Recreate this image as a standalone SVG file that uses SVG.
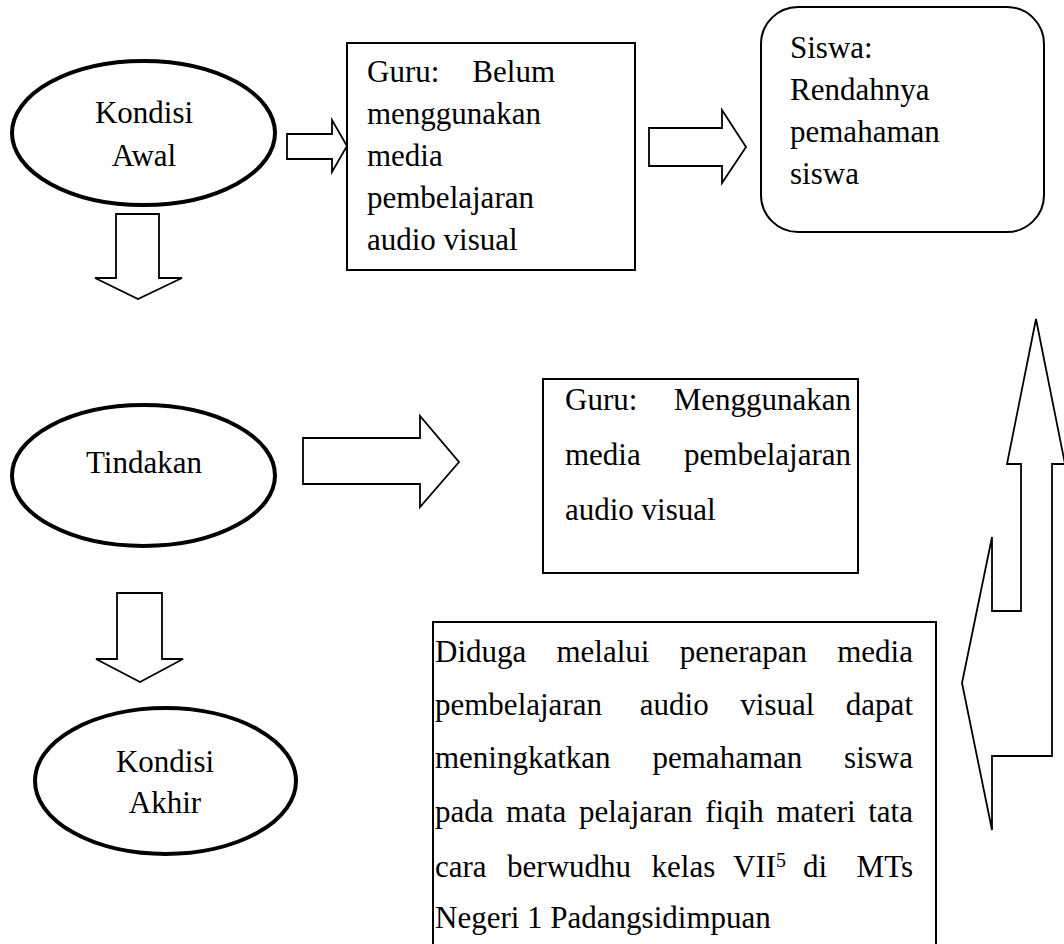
<svg xmlns="http://www.w3.org/2000/svg" width="1064" height="944" viewBox="0 0 1064 944">
<style>
.t{font-family:"Liberation Serif","Times New Roman",serif;font-size:31px;fill:#000}
.c{text-anchor:middle}
.e{text-anchor:end}
.ell{fill:#fff;stroke:#000;stroke-width:4}
.box{fill:#fff;stroke:#000;stroke-width:2}
.arr{fill:#fff;stroke:#000;stroke-width:1.8;stroke-linejoin:miter}
</style>
<rect width="1064" height="944" fill="#fff"/>
<g id="connectors">
<polygon class="arr" points="287,134 332,134 332,120 347,146 332,172 332,159 287,159"/>
<polygon class="arr" points="116,214 159,214 159,278 182,278 138,299 95,278 116,278"/>
<polygon class="arr" points="649,128 722,128 722,110 746,147 722,183 722,166 649,166"/>
<polygon class="arr" points="303,438 420,438 420,416 459,462 420,507 420,484 303,484"/>
<polygon class="arr" points="117,593 162,593 162,659 183,659 140,682 96,659 117,659"/>
<polygon class="arr" points="1036,319 1065,464 1052,464 1052,756 992,756 992,830 962,683 992,537 992,611 1021,611 1021,464 1007,464"/>
</g>
<g id="kondisi-awal">
<ellipse class="ell" cx="143.5" cy="133" rx="131.5" ry="72"/>
<text class="t c" x="144" y="123">Kondisi</text>
<text class="t c" x="144" y="166">Awal</text>
</g>
<g id="guru-belum">
<rect class="box" x="347" y="43" width="288" height="227"/>
<text class="t" x="367" y="82">Guru:</text>
<text class="t e" x="555" y="82">Belum</text>
<text class="t" x="367" y="124">menggunakan</text>
<text class="t" x="367" y="166">media</text>
<text class="t" x="367" y="208">pembelajaran</text>
<text class="t" x="367" y="250">audio visual</text>
</g>
<g id="siswa">
<rect class="box" x="761" y="7" width="283" height="225" rx="37" ry="37"/>
<text class="t" x="790" y="58">Siswa:</text>
<text class="t" x="790" y="100">Rendahnya</text>
<text class="t" x="790" y="142">pemahaman</text>
<text class="t" x="790" y="184">siswa</text>
</g>
<g id="tindakan">
<ellipse class="ell" cx="143.5" cy="475.5" rx="131.5" ry="70.5"/>
<text class="t c" x="144" y="473">Tindakan</text>
</g>
<g id="guru-menggunakan">
<rect class="box" x="543" y="379" width="315" height="194"/>
<text class="t" x="565" y="410">Guru:</text>
<text class="t e" x="851" y="410">Menggunakan</text>
<text class="t" x="565" y="465">media</text>
<text class="t e" x="851" y="465">pembelajaran</text>
<text class="t" x="565" y="520">audio visual</text>
</g>
<g id="kondisi-akhir">
<ellipse class="ell" cx="165.5" cy="781" rx="130.5" ry="73"/>
<text class="t c" x="165" y="772">Kondisi</text>
<text class="t c" x="165" y="813">Akhir</text>
</g>
<g id="hipotesis">
<rect class="box" x="433" y="622" width="503" height="330"/>
<text class="t" y="662"><tspan x="435">Diduga</tspan><tspan x="556.5">melalui</tspan><tspan x="679.7">penerapan</tspan></text>
<text class="t e" x="913" y="662">media</text>
<text class="t" y="715"><tspan x="435">pembelajaran</tspan><tspan x="639.8">audio</tspan><tspan x="740.3">visual</tspan></text>
<text class="t e" x="913" y="715">dapat</text>
<text class="t" y="768"><tspan x="435">meningkatkan</tspan><tspan x="652.5">pemahaman</tspan></text>
<text class="t e" x="913" y="768">siswa</text>
<text class="t" y="822"><tspan x="435">pada</tspan><tspan x="506.1">mata</tspan><tspan x="579">pelajaran</tspan><tspan x="705.2">fiqih</tspan><tspan x="776.4">materi</tspan></text>
<text class="t e" x="913" y="822">tata</text>
<text class="t" y="877"><tspan x="435">cara</tspan><tspan x="507.1">berwudhu</tspan><tspan x="651.6">kelas</tspan><tspan x="733">VII</tspan><tspan font-size="20" dy="-10">5</tspan><tspan x="803" dy="10">di</tspan></text>
<text class="t e" x="913" y="877">MTs</text>
<text class="t" x="435" y="928">Negeri 1 Padangsidimpuan</text>
</g>
</svg>
